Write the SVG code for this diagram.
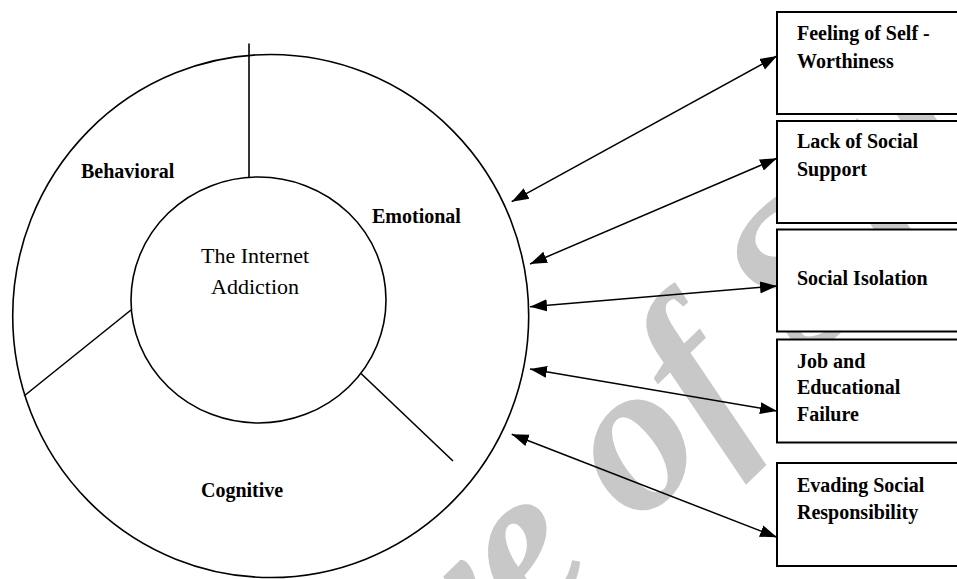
<svg xmlns="http://www.w3.org/2000/svg" width="957" height="579" viewBox="0 0 957 579">
<style>
.shape{fill:none;stroke:#000;stroke-width:1.6}
.disc{fill:#fff;stroke:#000;stroke-width:1.6}
.box{fill:#fff;stroke:#000;stroke-width:2}
.conn{fill:none;stroke:#000;stroke-width:1.5}
.lbl{font-family:"Liberation Serif","Times New Roman",serif;font-weight:bold;font-size:20px;fill:#000}
.core{font-family:"Liberation Serif","Times New Roman",serif;font-size:22px;fill:#000}
.wm{font-family:"Liberation Serif","Times New Roman",serif;font-weight:bold;font-style:italic;font-size:215px;fill:#c8c8c8}
</style>
<defs>
<marker id="ah" markerUnits="userSpaceOnUse" markerWidth="18" markerHeight="14" viewBox="0 0 18 14" refX="17" refY="7" orient="auto-start-reverse">
<polygon points="0,1 17,7 0,13" fill="#000"/>
</marker>
</defs>
<rect width="957" height="579" fill="#fff"/>
<g id="watermark">
<text class="wm" transform="translate(100,1045) rotate(-44)">Archive of SID</text>
</g>
<g id="circle-model">
<ellipse class="disc" cx="270.7" cy="316" rx="258" ry="261.5"/>
<ellipse class="shape" cx="258.5" cy="300" rx="127.5" ry="123"/>
<line class="shape" x1="249" y1="43.5" x2="249" y2="177"/>
<line class="shape" x1="131" y1="310" x2="24" y2="396"/>
<line class="shape" x1="361" y1="373.5" x2="453" y2="461"/>
</g>
<g id="core">
<text class="core" x="255" y="263" text-anchor="middle">The Internet</text>
<text class="core" x="255" y="294" text-anchor="middle">Addiction</text>
</g>
<g id="behavioral"><text class="lbl" x="81" y="178">Behavioral</text></g>
<g id="emotional"><text class="lbl" x="372" y="223">Emotional</text></g>
<g id="cognitive"><text class="lbl" x="201" y="497">Cognitive</text></g>
<g id="box-self-worth">
<rect class="box" x="777" y="12" width="200" height="102"/>
<text class="lbl" x="797" y="40">Feeling of Self -</text>
<text class="lbl" x="797" y="68">Worthiness</text>
</g>
<g id="box-social-support">
<rect class="box" x="777" y="121" width="200" height="102"/>
<text class="lbl" x="797" y="148">Lack of Social</text>
<text class="lbl" x="797" y="176">Support</text>
</g>
<g id="box-social-isolation">
<rect class="box" x="777" y="229.5" width="200" height="102"/>
<text class="lbl" x="797" y="285">Social Isolation</text>
</g>
<g id="box-job-failure">
<rect class="box" x="777" y="339.5" width="200" height="103"/>
<text class="lbl" x="797" y="368">Job and</text>
<text class="lbl" x="797" y="394">Educational</text>
<text class="lbl" x="797" y="421">Failure</text>
</g>
<g id="box-evading">
<rect class="box" x="777" y="463" width="200" height="103"/>
<text class="lbl" x="797" y="492">Evading Social</text>
<text class="lbl" x="797" y="519">Responsibility</text>
</g>
<g id="connectors">
<line class="conn" x1="511.7" y1="201.7" x2="777" y2="56" marker-start="url(#ah)" marker-end="url(#ah)"/>
<line class="conn" x1="530" y1="264" x2="777" y2="158.3" marker-start="url(#ah)" marker-end="url(#ah)"/>
<line class="conn" x1="530" y1="306.7" x2="777" y2="286" marker-start="url(#ah)" marker-end="url(#ah)"/>
<line class="conn" x1="530" y1="369" x2="777" y2="411" marker-start="url(#ah)" marker-end="url(#ah)"/>
<line class="conn" x1="511.7" y1="434.3" x2="777" y2="537.3" marker-start="url(#ah)" marker-end="url(#ah)"/>
</g>
</svg>
